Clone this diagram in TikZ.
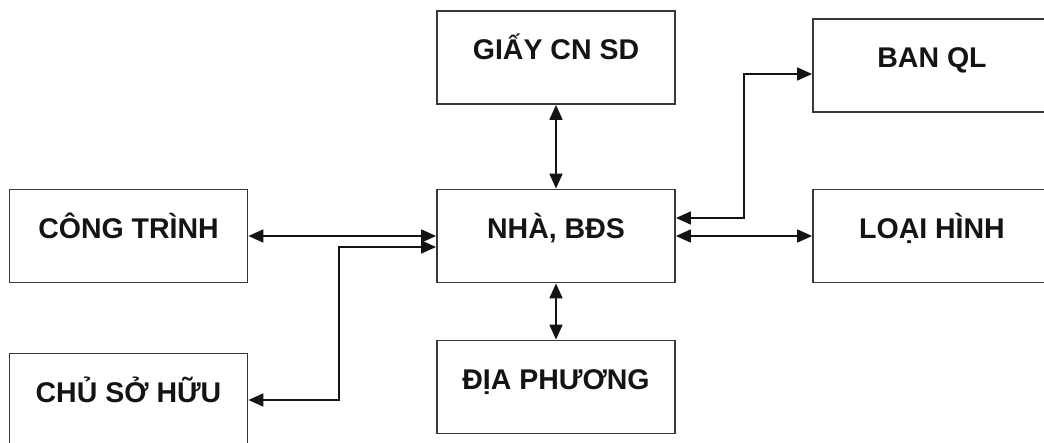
\documentclass[tikz,border=0pt]{standalone}
\usepackage{fontspec}
\setmainfont{Liberation Sans}
\usepackage{tikz}
\usetikzlibrary{arrows.meta,positioning,calc}
\definecolor{inkB}{HTML}{141414}
\definecolor{edgeG}{HTML}{383838}
\tikzset{
  entbox/.style={draw=edgeG, line width=1.8pt, minimum width=238pt,
                 minimum height=93pt, inner sep=0pt, text=inkB,
                 text height=0.75em, text depth=0.25em,
                 font=\fontsize{28.5}{33}\selectfont\bfseries},
  link/.style={{Triangle[length=15pt,width=13pt]}-{Triangle[length=15pt,width=13pt]},
               line width=1.7pt, color=inkB},
}

\begin{document}
\begin{tikzpicture}[x=1pt, y=-1pt]
  \useasboundingbox (0,0) rectangle (1044,443);
  % centre column
  \node[entbox] (giay) at (556,57.5) {GIẤY CN SD};
  \node[entbox] (nha) at (556,236) {NHÀ, BĐS};
  \node[entbox] (diaph) at (556,387) {ĐỊA PHƯƠNG};
  % left column
  \node[entbox] (congtr) at (128.5,236) {CÔNG TRÌNH};
  \node[entbox] (chuso) at (128.5,400) {CHỦ SỞ HỮU};
  % right column
  \node[entbox] (banql) at (932,65.5) {BAN QL};
  \node[entbox] (loai) at (932,236) {LOẠI HÌNH};
  % links
  \draw[link] (giay) -- (nha);
  \draw[link] (nha) -- (diaph);
  \draw[link] (congtr) -- (nha);
  \draw[link] ([yshift=-11pt]nha.west) -- ++(-97,0) |- (chuso.east);
  \draw[link] ([yshift=18pt]nha.east) -- ++(68,0) |- ([yshift=-8.5pt]banql.west);
  \draw[link] (nha) -- (loai);
\end{tikzpicture}
\end{document}
